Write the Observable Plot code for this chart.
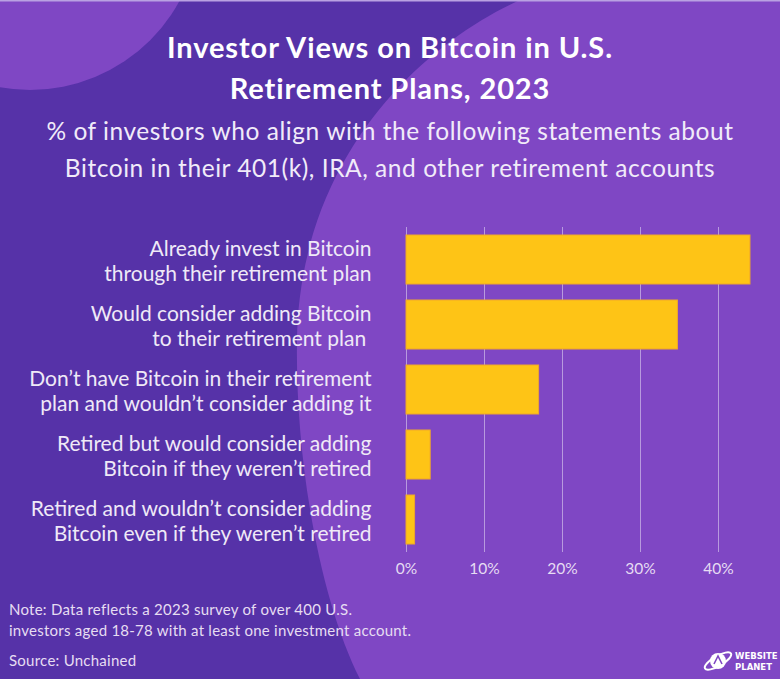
<!DOCTYPE html>
<html>
<head>
<meta charset="utf-8">
<script src="https://cdn.jsdelivr.net/npm/d3@7"></script>
<script src="https://cdn.jsdelivr.net/npm/@observablehq/plot@0.6"></script>
<style>
  html, body { margin: 0; padding: 0; background: #5632A8; }
  #wrap { position: relative; width: 780px; height: 679px; overflow: hidden; font-family: Lato, "Noto Sans", sans-serif; }
  #bg { position: absolute; left: 0; top: 0; }
  .title { position: absolute; left: 0; width: 780px; text-align: center; color: #fff; font-weight: 700; font-size: 29px; letter-spacing: 0.9px; line-height: 41px; top: 26px; }
  .subtitle { position: absolute; left: 0; width: 780px; text-align: center; color: #f1ebf9; font-weight: 400; font-size: 24.5px; letter-spacing: 0.55px; line-height: 37px; top: 112px; }
  #chart { position: absolute; left: 0; top: 200px; }
  .note { position: absolute; left: 9px; top: 599px; color: #e6ddf2; font-size: 15px; letter-spacing: 0.25px; line-height: 21px; }
  .source { position: absolute; left: 9px; top: 650px; color: #e6ddf2; font-size: 15px; letter-spacing: 0.25px; line-height: 21px; }
  #logo { position: absolute; left: 700px; top: 645px; }
</style>
</head>
<body>
<div id="wrap">
  <svg id="bg" width="780" height="679">
    <rect x="0" y="0" width="780" height="679" fill="#5632A8"/>
    <circle cx="30" cy="-80" r="170" fill="#7F47C4"/>
    <path d="M520,0 C430,40 300,150 297,340 C295,460 320,600 360,679 L780,679 L780,0 Z" fill="#7F47C4"/>
    <rect x="0" y="0" width="780" height="1.5" fill="#b9a2e2"/>
  </svg>
  <div class="title">Investor Views on Bitcoin in U.S.<br>Retirement Plans, 2023</div>
  <div class="subtitle">% of investors who align with the following statements about<br>Bitcoin in their 401(k), IRA, and other retirement accounts</div>
  <div id="chart"></div>
  <div class="note">Note: Data reflects a 2023 survey of over 400 U.S.<br>investors aged 18-78 with at least one investment account.</div>
  <div class="source">Source: Unchained</div>
  <svg id="logo" width="80" height="32">
    <g fill="none" stroke="#fff">
      <circle cx="18" cy="16" r="8" fill="#fff" stroke="none"/>
      <ellipse cx="18" cy="16" rx="15" ry="5" transform="rotate(-30 18 16)" stroke-width="2"/>
      <path d="M14,19 L18,11 L22,19" stroke="#7F47C4" stroke-width="1.6"/>
    </g>
    <text x="35" y="14" fill="#fff" font-family="DejaVu Sans, sans-serif" font-weight="700" font-size="8.5">WEBSITE</text>
    <text x="35" y="25" fill="#fff" font-family="DejaVu Sans, sans-serif" font-weight="700" font-size="8.5">PLANET</text>
  </svg>
</div>
<script>
const categories = [
  "Already invest in Bitcoin\nthrough their retirement plan",
  "Would consider adding Bitcoin\nto their retirement plan ",
  "Don\u2019t have Bitcoin in their retirement\nplan and wouldn\u2019t consider adding it",
  "Retired but would consider adding\nBitcoin if they weren\u2019t retired",
  "Retired and wouldn\u2019t consider adding\nBitcoin even if they weren\u2019t retired"
];
const values = [44.1, 34.8, 17.0, 3.1, 1.1];
const tickValues = [0, 10, 20, 30, 40];

const data = categories.map((c, i) => ({category: c, value: values[i]}));

const chart = Plot.plot({
  width: 780,
  height: 390,
  marginTop: 27,
  marginBottom: 38,
  marginLeft: 406,
  marginRight: 23,
  style: {background: "transparent", fontFamily: "Lato, 'Noto Sans', sans-serif", overflow: "visible"},
  x: {domain: [0, 45], axis: null},
  y: {domain: categories, paddingInner: 0.25, paddingOuter: 0.125, axis: null},
  marks: [
    Plot.gridX(tickValues, {stroke: "#ffffff", strokeOpacity: 0.45, strokeWidth: 1}),
    Plot.barX(data, {x: "value", y: "category", fill: "#FEC416", stroke: "#EFA72A", strokeWidth: 1}),
    Plot.axisX({ticks: tickValues, tickFormat: d => d + "%", tickSize: 0, tickPadding: 10, fontSize: 15.5, fill: "#e6dcf3", stroke: null, label: null}),
    Plot.text(data, {x: 0, y: "category", text: "category", textAnchor: "end", dx: -35, fontSize: 21, lineHeight: 1.19, fill: "#efe9f7"})
  ]
});
document.getElementById("chart").appendChild(chart);
</script>
</body>
</html>
